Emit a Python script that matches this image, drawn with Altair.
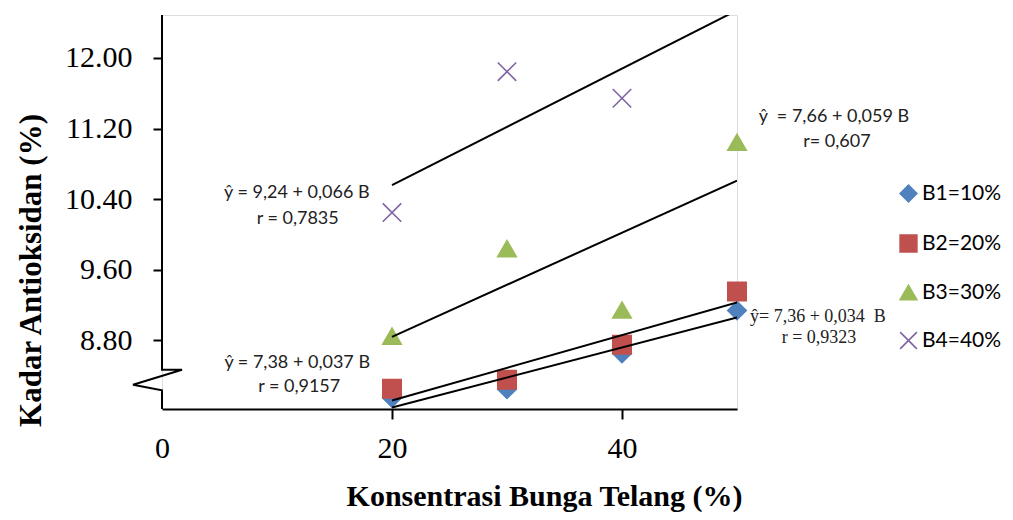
import altair as alt
import pandas as pd

# ---- data ----
conc = [20, 30, 40, 50]
series = ["B1=10%", "B2=20%", "B3=30%", "B4=40%"]
b1 = [8.149, 8.247, 8.652, 9.139]
b2 = [8.253, 8.355, 8.751, 9.355]
b3 = [8.849, 9.840, 9.144, 11.045]
b4 = [10.249, 11.845, 11.544]          # no point at 50
b4_conc = [20, 30, 40]

# trend lines (value at B=20 and B=50)
line_start = [8.04, 8.12, 8.84, 10.56]
line_end = [9.06, 9.23, 10.61, 12.54]

# equation annotations
ann_sans = ["ŷ = 9,24 + 0,066 B", "r = 0,7835", "ŷ = 7,38 + 0,037 B", "r = 0,9157",
            "ŷ\u00a0 = 7,66 + 0,059 B", "r= 0,607"]
ann_sans_x = [11.72, 11.80, 11.76, 11.93, 58.43, 58.69]
ann_sans_y = [10.472, 10.177, 8.547, 8.276, 11.332, 11.049]
ann_serif = ["ŷ= 7,36 + 0,034 \u00a0B", "r = 0,9323"]
ann_serif_x = [57.04, 57.13]
ann_serif_y = [9.068, 8.830]

# broken y-axis line (with zigzag)
axis_x = [0, 0, 1.74, -2.52, 0, 0]
axis_y = [12.487, 8.468, 8.468, 8.298, 8.234, 8.023]

colors = ["#4F81BD", "#C0504D", "#9BBB59", "#8064A2"]
shapes = ["diamond", "square", "triangle-up", "M-1,-1L1,1M-1,1L1,-1"]

# ---- tables ----
rows = []
for s, xs_, vals in [(series[0], conc, b1), (series[1], conc, b2),
                     (series[2], conc, b3), (series[3], b4_conc, b4)]:
    for c, v in zip(xs_, vals):
        rows.append({"series": s, "conc": c, "value": v})
pts_df = pd.DataFrame(rows)

lrows = []
for s, a, b in zip(series, line_start, line_end):
    lrows.append({"series": s, "conc": 20, "value": a})
    lrows.append({"series": s, "conc": 50, "value": b})
line_df = pd.DataFrame(lrows)

axis_df = pd.DataFrame({"conc": axis_x, "value": axis_y, "i": list(range(len(axis_x)))})
sans_df = pd.DataFrame({"t": ann_sans, "conc": ann_sans_x, "value": ann_sans_y})
serif_df = pd.DataFrame({"t": ann_serif, "conc": ann_serif_x, "value": ann_serif_y})

xs = alt.Scale(domain=[0, 50], nice=False, zero=False)
ys = alt.Scale(domain=[8.023, 12.487], nice=False, zero=False)
cscale = alt.Scale(domain=series, range=colors)
sscale = alt.Scale(domain=series, range=shapes)

SERIF = "Liberation Serif"
SANS = "Lato"

x_axis = alt.Axis(values=[0, 20, 40], labelFont=SERIF, labelFontSize=30, labelColor="black",
                  labelFlush=False,
                  tickColor="black", tickWidth=2, tickSize=10, labelPadding=14,
                  tickOpacity=alt.condition("datum.value > 0", alt.value(1), alt.value(0)),
                  domainColor="black", domainWidth=2, grid=False,
                  title="Konsentrasi Bunga Telang (%)", titleFont=SERIF, titleFontSize=30,
                  titleFontWeight="bold", titleColor="black", titleX=382, titleY=96,
                  titleBaseline="alphabetic")
y_axis = alt.Axis(values=[8.8, 9.6, 10.4, 11.2, 12.0], format=".2f", labelFont=SERIF,
                  labelFontSize=30, labelColor="black", tickColor="black", tickWidth=2,
                  tickSize=9, labelPadding=21, domain=False, grid=False,
                  title="Kadar Antioksidan (%)", titleFont=SERIF, titleFontSize=31,
                  titleFontWeight="bold", titleColor="black", titleX=-131, titleY=255,
                  titleBaseline="middle", titleAngle=-90)

leg = alt.Legend(title=None, orient="none", legendX=736, legendY=168, labelFont=SANS,
                 labelFontSize=21, labelColor="black", symbolSize=280, symbolStrokeWidth=1.6,
                 rowPadding=25, labelOffset=3, padding=0)

points = alt.Chart(pts_df).mark_point(filled=True, size=340, strokeWidth=1.6, opacity=1).encode(
    x=alt.X("conc:Q", scale=xs, axis=x_axis),
    y=alt.Y("value:Q", scale=ys, axis=y_axis),
    fill=alt.Fill("series:N", scale=cscale, legend=leg),
    stroke=alt.Stroke("series:N", scale=cscale, legend=leg),
    shape=alt.Shape("series:N", scale=sscale, legend=leg),
)

lines = alt.Chart(line_df).mark_line(color="black", strokeWidth=2, clip=True).encode(
    x="conc:Q", y="value:Q", detail="series:N")

yline = alt.Chart(axis_df).mark_line(color="black", strokeWidth=2).encode(
    x="conc:Q", y="value:Q", order="i:Q")

sans_text = alt.Chart(sans_df).mark_text(font=SANS, fontSize=18, color="#222222",
                                         align="center", baseline="middle").encode(
    x="conc:Q", y="value:Q", text="t:N")
serif_text = alt.Chart(serif_df).mark_text(font=SERIF, fontSize=18, color="#222222",
                                           align="center", baseline="middle").encode(
    x="conc:Q", y="value:Q", text="t:N")

chart = alt.layer(points, lines, yline, sans_text, serif_text).properties(
    width=575, height=394,
    padding={"left": 154, "top": 7, "right": 267, "bottom": 103},
    autosize=alt.AutoSizeParams(type="none"),
).configure_view(stroke=None).configure(background="white")

chart.save("out.html", embed_options={"renderer": "svg", "actions": False})
